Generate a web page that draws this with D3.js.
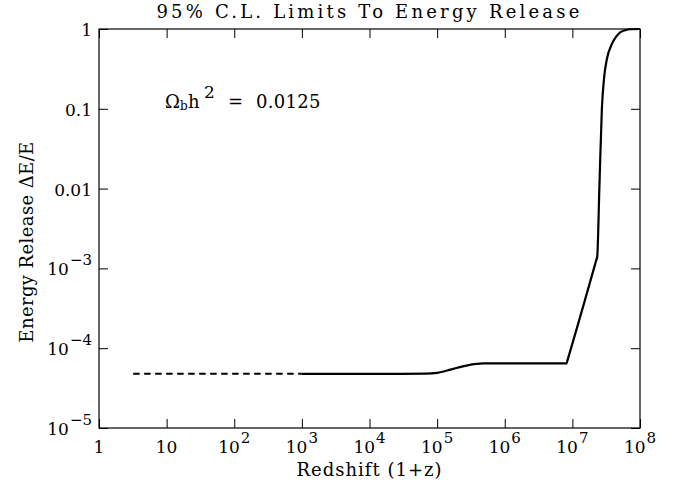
<!DOCTYPE html>
<html>
<head>
<meta charset="utf-8">
<script src="https://cdn.jsdelivr.net/npm/d3@7"></script>
<style>
  body { margin: 0; background: #fff; }
  text { font-family: "DejaVu Serif", serif; fill: #000; }
</style>
</head>
<body>
<svg id="chart" width="673" height="486"></svg>
<script>
// dashed extrapolation at low redshift
const dashZ = [3.2, 1e3];
const dashE = [4.78e-5, 4.78e-5];

// solid limit curve
const solidZ = [1e3, 3e4, 6.9e4, 1e5, 1.41e5, 2e5, 2.82e5, 3.8e5, 4.8e5, 8.2e6, 8.5e6, 2.25e7,
  2.33e7, 2.51e7, 2.73e7, 2.95e7, 3.24e7, 3.84e7, 4.47e7, 5.09e7, 6.03e7, 7.16e7, 1e8];
const solidE = [4.78e-5, 4.78e-5, 4.79e-5, 4.9e-5, 5.25e-5, 5.69e-5, 6.1e-5, 6.35e-5, 6.46e-5, 6.46e-5, 7.15e-5, 1.26e-3,
  1.4e-3, 0.0105, 0.1, 0.25, 0.42, 0.65, 0.81, 0.91, 0.966, 0.993, 1.0];

const xTicks = [1, 10, 1e2, 1e3, 1e4, 1e5, 1e6, 1e7, 1e8];
const xLabels = [["1", ""], ["10", ""], ["10", "2"], ["10", "3"], ["10", "4"], ["10", "5"], ["10", "6"], ["10", "7"], ["10", "8"]];
const yTicks = [1e-5, 1e-4, 1e-3, 0.01, 0.1, 1];
const yLabels = [["10", "\u22125"], ["10", "\u22124"], ["10", "\u22123"], ["0.01", ""], ["0.1", ""], ["1", ""]];

const margin = { left: 99, right: 33, top: 29, bottom: 58 };
const W = 673, H = 486;
const pw = W - margin.left - margin.right;
const ph = H - margin.top - margin.bottom;

const svg = d3.select("#chart");
const g = svg.append("g").attr("transform", `translate(${margin.left},${margin.top})`);

const x = d3.scaleLog().domain([1, 1e8]).range([0, pw]);
const y = d3.scaleLog().domain([1e-5, 1]).range([ph, 0]);

// frame with inward ticks on all sides
const tick = 9;
function styleAxis(sel) {
  sel.select(".domain").remove();
  sel.selectAll(".tick line").attr("stroke", "#000").attr("stroke-width", 1);
  sel.selectAll(".tick text").remove();
}
g.append("g").attr("transform", `translate(0,${ph})`)
  .call(d3.axisBottom(x).tickValues(xTicks).tickSize(-tick).tickFormat("")).call(styleAxis);
g.append("g")
  .call(d3.axisTop(x).tickValues(xTicks).tickSize(-tick).tickFormat("")).call(styleAxis);
g.append("g")
  .call(d3.axisLeft(y).tickValues(yTicks).tickSize(-tick).tickFormat("")).call(styleAxis);
g.append("g").attr("transform", `translate(${pw},0)`)
  .call(d3.axisRight(y).tickValues(yTicks).tickSize(-tick).tickFormat("")).call(styleAxis);

g.append("rect").attr("x", 0).attr("y", 0).attr("width", pw).attr("height", ph)
  .attr("fill", "none").attr("stroke", "#000").attr("stroke-width", 1.2);

// tick labels with superscripts
const fs = 17;
xTicks.forEach((v, i) => {
  const t = g.append("text").attr("x", x(v)).attr("y", ph + 25)
    .attr("text-anchor", "middle").style("font-size", fs + "px");
  t.append("tspan").text(xLabels[i][0]);
  if (xLabels[i][1]) t.append("tspan").attr("dx", 1).attr("dy", -10).style("font-size", "15px").text(xLabels[i][1]);
});
yTicks.forEach((v, i) => {
  const t = g.append("text").attr("x", -7).attr("y", y(v) + 7)
    .attr("text-anchor", "end").style("font-size", fs + "px");
  t.append("tspan").text(yLabels[i][0]);
  if (yLabels[i][1]) t.append("tspan").attr("dx", 1).attr("dy", -10).style("font-size", "15px").text(yLabels[i][1]);
});

// curves
const line = d3.line().x(d => x(d[0])).y(d => y(d[1]));
g.append("path").datum(d3.zip(dashZ, dashE)).attr("d", line)
  .attr("fill", "none").attr("stroke", "#000").attr("stroke-width", 2).attr("stroke-dasharray", "6.5,4.5");
g.append("path").datum(d3.zip(solidZ, solidE)).attr("d", line.curve(d3.curveMonotoneX))
  .attr("fill", "none").attr("stroke", "#000").attr("stroke-width", 2.2).attr("stroke-linejoin", "round");

// title and axis titles
svg.append("text").attr("x", margin.left + pw / 2).attr("y", 18)
  .attr("text-anchor", "middle").style("font-size", "18px").style("letter-spacing", "3.2px")
  .text("95% C.L. Limits To Energy Release");
svg.append("text").attr("x", margin.left + pw / 2).attr("y", 476)
  .attr("text-anchor", "middle").style("font-size", "18px").style("letter-spacing", "1px")
  .text("Redshift (1+z)");
svg.append("text").attr("transform", "translate(33,242) rotate(-90)")
  .attr("text-anchor", "middle").style("font-size", "18px").style("letter-spacing", "0.4px")
  .text("Energy Release \u0394E/E");

// baryon density annotation
const annY = 108;
svg.append("text").attr("x", 165).attr("y", annY).style("font-size", "18px").text("\u03a9");
svg.append("text").attr("x", 180).attr("y", annY + 2).style("font-size", "12px").text("b");
svg.append("text").attr("x", 188).attr("y", annY).style("font-size", "18px").text("h");
svg.append("text").attr("x", 204).attr("y", annY - 10).style("font-size", "17px").text("2");
svg.append("text").attr("x", 228).attr("y", annY).style("font-size", "18px").text("=");
svg.append("text").attr("x", 256).attr("y", annY).style("font-size", "18px").style("letter-spacing", "0.3px").text("0.0125");
</script>
</body>
</html>
